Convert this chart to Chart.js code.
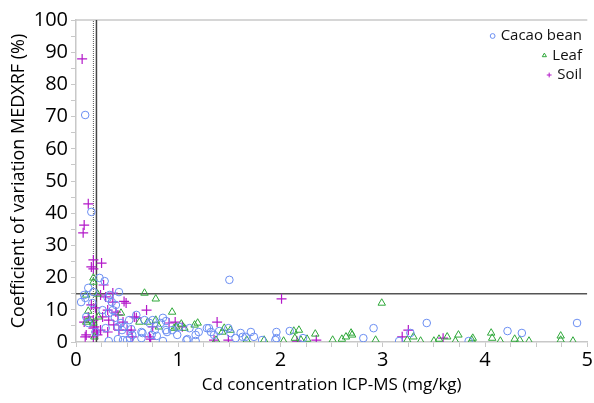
<!DOCTYPE html>
<html><head><meta charset="utf-8">
<script src="https://cdn.jsdelivr.net/npm/chart.js@4.4.0/dist/chart.umd.min.js"></script>
<style>html,body{margin:0;padding:0;background:#fff}#wrap{width:594px;height:403px}</style>
</head><body><div id="wrap"><canvas id="c" width="594" height="403"></canvas></div>
<script>
const seriesNames = ["Cacao bean", "Leaf", "Soil"];
const cacaoX = [0.09,0.15,1.5,0.23,0.28,0.12,0.17,0.42,0.08,0.09,0.31,0.33,0.05,0.35,0.39,0.16,0.26,0.36,0.32,0.38,0.1,0.52,0.12,0.44,0.47,0.41,0.29,0.45,0.54,0.19,0.55,0.32,0.41,0.46,0.5,0.53,0.64,0.64,0.74,0.79,0.88,0.89,0.99,1.09,1.17,1.2,1.3,1.32,1.35,1.4,1.49,1.51,1.56,1.61,1.63,1.71,1.74,1.66,1.82,1.96,1.96,1.95,2.09,2.22,2.81,2.91,3.16,3.27,3.43,3.84,4.22,4.36,4.9,0.59,0.67,0.75,0.85,0.72,0.83,0.65,0.77,0.88,0.94,1.01,1.11,1.17,1.28,0.85,1.08];
const cacaoY = [70.5,40.4,19.3,19.9,18.9,16.8,15.5,15.5,14.6,13.7,13.7,14.6,12.4,12.4,11.5,12.1,9.9,9.9,9.0,7.5,7.8,6.8,5.9,5.9,4.7,4.7,4.3,3.7,4.0,3.1,2.2,0.3,0.9,0.6,0.6,1.2,3.1,1.2,2.2,1.9,6.5,3.1,2.2,0.9,0.3,3.1,4.3,3.1,2.2,3.4,4.3,2.8,1.2,2.8,1.6,3.1,1.6,1.6,0.6,3.1,1.2,0.6,3.4,1.2,1.2,4.3,0.3,2.8,5.9,0.3,3.4,2.8,5.9,8.4,6.8,6.8,7.5,5.9,5.9,2.8,3.7,3.7,3.7,4.7,4.3,2.2,4.3,0.3,0.6];
const leafX = [0.17,0.1,0.21,0.67,0.78,0.94,0.12,0.44,0.1,0.13,0.17,0.22,0.18,0.62,0.7,0.78,0.81,0.98,1.03,1.16,1.19,1.43,1.45,1.51,1.37,1.67,1.84,2.03,2.13,2.18,2.14,2.2,2.26,2.34,2.51,2.6,2.64,2.69,2.7,2.93,2.99,3.24,3.3,3.37,3.5,3.55,3.63,3.71,3.74,3.87,3.88,4.06,4.07,4.15,4.29,4.34,4.43,4.74,4.74,4.86,0.96,1.06,0.17];
const leafY = [19.9,14.6,14.9,15.2,13.4,9.3,9.6,9.0,6.2,6.8,5.9,7.8,1.6,6.2,6.2,6.8,4.7,4.7,5.6,5.3,5.9,3.1,4.3,3.7,0.6,0.6,0.6,0.3,3.4,3.7,1.2,0.6,0.9,2.5,0.6,0.9,1.6,2.8,2.2,0.6,12.1,0.6,1.6,0.3,0.3,0.9,1.6,0.3,2.2,0.6,1.2,2.8,1.2,0.3,0.9,0.6,0.3,1.9,0.6,0.3,4.3,4.3,18.6];
const soilX = [0.06,0.12,0.08,0.07,0.17,0.25,0.15,0.17,0.27,0.24,0.29,0.36,0.36,0.49,0.47,0.15,0.19,0.31,0.39,0.69,0.26,0.12,0.32,0.17,0.08,0.46,0.59,0.41,0.37,0.18,0.17,0.24,0.31,0.2,0.42,0.5,0.54,0.1,0.21,0.17,0.09,0.55,0.72,0.73,0.91,0.97,1.04,1.38,1.35,1.49,2.01,2.16,2.35,3.19,3.25,3.59,0.57,0.75];
const soilY = [87.9,42.9,36.3,33.9,25.5,24.5,23.3,22.7,17.7,14.6,14.0,15.2,12.4,12.1,12.6,11.5,10.6,9.9,9.3,9.9,7.8,7.8,6.8,6.8,6.2,6.2,7.5,8.4,5.3,4.7,4.3,3.7,3.1,3.1,3.7,3.7,3.7,2.2,2.2,1.6,1.6,1.6,1.6,0.9,5.9,6.2,4.7,6.2,0.6,0.6,13.4,0.3,0.6,1.6,3.7,1.2,7.8,4.7];
const refY = 15;           // horizontal reference line
const refXSolid = 0.2;     // vertical solid line
const refXDotted = 0.17;   // vertical dotted line
const xTicks = [0,1,2,3,4,5];
const yTicks = [0,10,20,30,40,50,60,70,80,90,100];

const colors = ['#6b8ef2', '#2fa83a', '#b318c9'];
const styles = ['circle', 'triangle', 'cross'];
const radii = [3.8, 4.3, 5];
const zip = (xs, ys) => xs.map((x, i) => ({x, y: ys[i]}));
const FONT = "'Open Sans', 'Noto Sans', sans-serif";

const legendPlugin = {
  id: 'customLegend',
  afterDraw(chart) {
    const ctx = chart.ctx;
    ctx.save();
    ctx.font = "15px " + FONT;
    ctx.textAlign = 'right';
    ctx.textBaseline = 'middle';
    const right = 582, top = 36, gap = 19.5;
    seriesNames.forEach((n, i) => {
      const y = top + i * gap;
      ctx.fillStyle = '#111';
      ctx.fillText(n, right, y);
      const w = ctx.measureText(n).width;
      ctx.strokeStyle = colors[i];
      ctx.fillStyle = 'rgba(0,0,0,0)';
      ctx.lineWidth = 1;
      Chart.helpers.drawPoint(ctx, {pointStyle: styles[i], radius: 2.4, borderWidth: 1}, right - w - 8, y);
    });
    ctx.restore();
  }
};

const framePlugin = {
  id: 'frame',
  beforeDatasetsDraw(chart) {
    const {ctx, chartArea: a} = chart;
    ctx.save();
    ctx.strokeStyle = '#c8c8c8';
    ctx.lineWidth = 1.5;
    ctx.beginPath();
    ctx.moveTo(a.left, a.top);
    ctx.lineTo(a.right, a.top);
    ctx.stroke();
    ctx.restore();
  }
};

new Chart(document.getElementById('c'), {
  type: 'scatter',
  data: {
    datasets: [
      {label: seriesNames[0], data: zip(cacaoX, cacaoY), pointStyle: styles[0], pointRadius: radii[0], borderColor: colors[0], backgroundColor: 'rgba(0,0,0,0)', borderWidth: 1},
      {label: seriesNames[1], data: zip(leafX, leafY), pointStyle: styles[1], pointRadius: radii[1], borderColor: colors[1], backgroundColor: 'rgba(0,0,0,0)', borderWidth: 1},
      {label: seriesNames[2], data: zip(soilX, soilY), pointStyle: styles[2], pointRadius: radii[2], borderColor: colors[2], backgroundColor: 'rgba(0,0,0,0)', borderWidth: 1.2},
      {type: 'line', data: [{x: xTicks[0], y: refY}, {x: xTicks[xTicks.length-1], y: refY}], borderColor: '#555', borderWidth: 1.5, pointRadius: 0, showLine: true},
      {type: 'line', data: [{x: refXSolid, y: yTicks[0]}, {x: refXSolid, y: yTicks[yTicks.length-1]}], borderColor: '#444', borderWidth: 1.5, pointRadius: 0, showLine: true},
      {type: 'line', data: [{x: refXDotted, y: yTicks[0]}, {x: refXDotted, y: yTicks[yTicks.length-1]}], borderColor: '#555', borderWidth: 1, borderDash: [1, 1], pointRadius: 0, showLine: true}
    ]
  },
  options: {
    responsive: false,
    animation: false,
    layout: {padding: {top: 20, right: 5, left: 0, bottom: 0}},
    plugins: {legend: {display: false}, tooltip: {enabled: false}},
    scales: {
      x: {
        type: 'linear', min: 0, max: 5,
        afterBuildTicks(s) { const t = []; for (let v = 0; v <= 5.0001; v += 0.25) t.push({value: Math.round(v*100)/100}); s.ticks = t; },
        afterFit(s) { s.height = 61; },
        ticks: {autoSkip: false, maxRotation: 0, color: '#000', font: {family: FONT, size: 20}, padding: 1,
          callback: (v) => xTicks.includes(v) ? String(v) : ''},
        grid: {drawOnChartArea: false, tickLength: 5, tickColor: '#c8c8c8'},
        border: {color: '#c8c8c8', width: 1.5},
        title: {display: true, text: 'Cd concentration ICP-MS (mg/kg)', color: '#000', font: {family: FONT, size: 17}, padding: {top: 2, bottom: 8}}
      },
      y: {
        type: 'linear', min: 0, max: 100,
        afterBuildTicks(s) { const t = []; for (let v = 0; v <= 100; v += 5) t.push({value: v}); s.ticks = t; },
        afterFit(s) { s.width = 76; },
        ticks: {autoSkip: false, color: '#000', font: {family: FONT, size: 20}, padding: 3,
          callback: (v) => yTicks.includes(v) ? String(v) : ''},
        grid: {drawOnChartArea: false, tickLength: 5, tickColor: '#c8c8c8'},
        border: {color: '#c8c8c8', width: 1.5},
        title: {display: true, text: 'Coefficient of variation MEDXRF (%)', color: '#000', font: {family: FONT, size: 18}, padding: {top: 8, bottom: 0}}
      }
    }
  },
  plugins: [legendPlugin, framePlugin]
});
</script>
</body></html>
